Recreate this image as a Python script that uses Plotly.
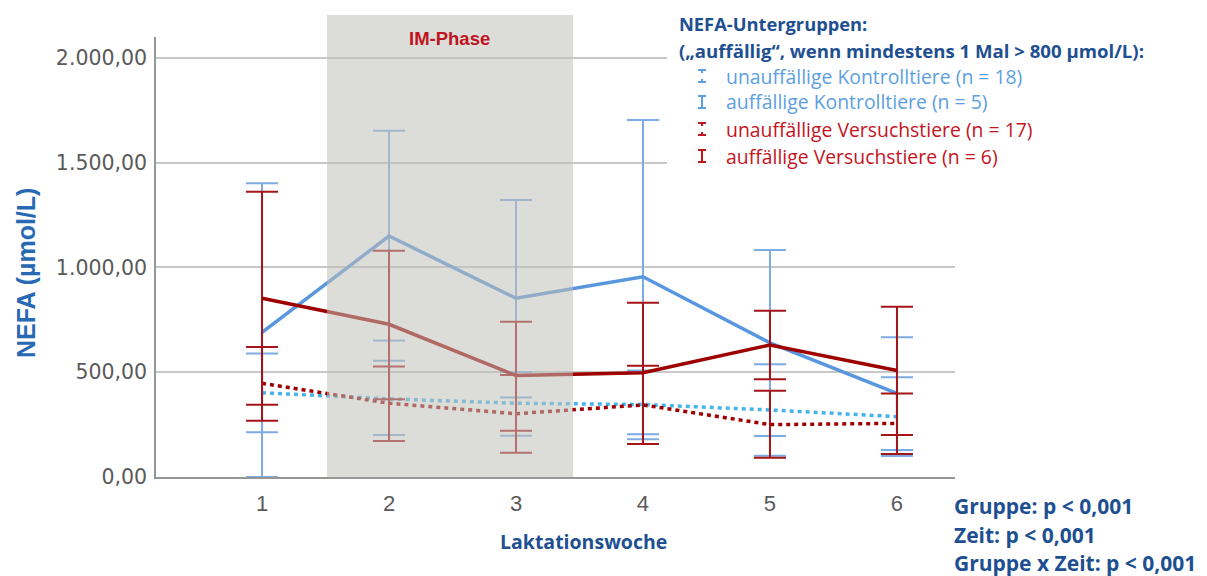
import plotly.graph_objects as go

# ---------------- data ----------------
weeks = [1, 2, 3, 4, 5, 6]
x_ticklabels = ["1", "2", "3", "4", "5", "6"]
y_tickvals = [0, 500, 1000, 1500, 2000]
y_ticktext = ["0,00", "500,00", "1.000,00", "1.500,00", "2.000,00"]

# unauffällige Kontrolltiere (n = 18)
ctrl_normal_mean = [402, 373, 352, 346, 320, 288]
ctrl_normal_upper = [590, 555, 500, 508, 538, 476]
ctrl_normal_lower = [213, 200, 197, 180, 102, 100]

# auffällige Kontrolltiere (n = 5)
ctrl_high_mean = [690, 1150, 853, 956, 640, 399]
ctrl_high_upper = [1402, 1652, 1322, 1704, 1083, 667]
ctrl_high_lower = [0, 651, 380, 204, 196, 129]

# unauffällige Versuchstiere (n = 17)
trt_normal_mean = [447, 352, 302, 344, 250, 256]
trt_normal_upper = [620, 527, 487, 531, 412, 399]
trt_normal_lower = [269, 172, 116, 157, 92, 110]

# auffällige Versuchstiere (n = 6)
trt_high_mean = [853, 729, 484, 498, 630, 508]
trt_high_upper = [1362, 1080, 741, 832, 794, 813]
trt_high_lower = [345, 371, 221, 157, 466, 200]

im_phase = [1.512, 3.449]

legend_labels = [
    "unauffällige Kontrolltiere (n = 18)",
    "auffällige Kontrolltiere (n = 5)",
    "unauffällige Versuchstiere (n = 17)",
    "auffällige Versuchstiere (n = 6)",
]
stats_lines = ["Gruppe: p < 0,001", "Zeit: p < 0,001", "Gruppe x Zeit: p < 0,001"]

# ---------------- styling ----------------
W, H = 1207, 576
OFF = 8  # default page body margin
L, R, T, B = 156, 955, 37, 477  # plot area in window pixels

BLUE_LINE = "rgb(88,150,222)"
BLUE_ERR = "rgb(125,172,228)"
CYAN_DOT = "rgb(70,180,235)"
RED_LINE = "rgb(158,0,0)"
RED_ERR = "rgb(165,20,25)"
DARKBLUE = "rgb(30,80,145)"
LEG_BLUE = "rgb(92,160,225)"
LEG_RED = "rgb(196,20,30)"


def px_x(px):
    return (px - L) / (R - L)


def px_y(py):
    return (B - py) / (B - T)


fig = go.Figure()


def add_series(mean, upper, lower, line_color, err_color, dash, width):
    plus = [u - m for u, m in zip(upper, mean)]
    minus = [m - lo for m, lo in zip(mean, lower)]
    fig.add_trace(go.Scatter(
        x=weeks, y=mean, mode="lines",
        line=dict(color=line_color, width=width, dash=dash),
        error_y=dict(type="data", symmetric=False, array=plus, arrayminus=minus,
                     color=err_color, thickness=2, width=16),
        showlegend=False, hoverinfo="skip",
    ))


add_series(ctrl_high_mean, ctrl_high_upper, ctrl_high_lower, BLUE_LINE, BLUE_ERR, "solid", 3.5)
add_series(ctrl_normal_mean, ctrl_normal_upper, ctrl_normal_lower, CYAN_DOT, BLUE_ERR, "4px,4px", 3.5)
add_series(trt_normal_mean, trt_normal_upper, trt_normal_lower, RED_LINE, RED_ERR, "4px,4px", 3.5)
add_series(trt_high_mean, trt_high_upper, trt_high_lower, RED_LINE, RED_ERR, "solid", 3.5)

shapes = []
# IM-Phase overlay
shapes.append(dict(type="rect", xref="x", yref="paper", x0=im_phase[0], x1=im_phase[1],
                   y0=0, y1=px_y(15), fillcolor="rgb(192,192,184)", opacity=0.55,
                   line=dict(width=0), layer="above"))
# white box behind legend (covers upper gridlines)
shapes.append(dict(type="rect", xref="paper", yref="paper", x0=px_x(667), x1=px_x(1000),
                   y0=px_y(178), y1=px_y(20), fillcolor="white", line=dict(width=0), layer="above"))

# legend icons
icon_x = 702
item_y = [76, 102, 129, 156]
icon_colors = [LEG_BLUE, LEG_BLUE, LEG_RED, LEG_RED]
icon_dashed = [True, False, True, False]
for yy, col, dashed in zip(item_y, icon_colors, icon_dashed):
    top, bot = yy - 6, yy + 6
    for cy in (top, bot):
        shapes.append(dict(type="line", xref="paper", yref="paper",
                           x0=px_x(icon_x - 4), x1=px_x(icon_x + 4), y0=px_y(cy), y1=px_y(cy),
                           line=dict(color=col, width=2), layer="above"))
    if dashed:
        for a, b in ((top, top + 3), (bot - 3, bot)):
            shapes.append(dict(type="line", xref="paper", yref="paper",
                               x0=px_x(icon_x), x1=px_x(icon_x), y0=px_y(a), y1=px_y(b),
                               line=dict(color=col, width=2), layer="above"))
    else:
        shapes.append(dict(type="line", xref="paper", yref="paper",
                           x0=px_x(icon_x), x1=px_x(icon_x), y0=px_y(top), y1=px_y(bot),
                           line=dict(color=col, width=2), layer="above"))

annotations = []
TXT = "Open Sans"
annotations.append(dict(text="<b>IM-Phase</b>", xref="x", yref="paper", x=2.48, y=px_y(38),
                        showarrow=False, font=dict(family="Liberation Sans", size=18.5, color="rgb(190,20,30)"),
                        xanchor="center", yanchor="middle"))
annotations.append(dict(text="<b>NEFA-Untergruppen:</b>", xref="paper", yref="paper",
                        x=px_x(677), y=px_y(23), xanchor="left", yanchor="middle", showarrow=False,
                        font=dict(family=TXT, size=18.3, color=DARKBLUE)))
annotations.append(dict(text="<b>(„auffällig“, wenn mindestens 1 Mal > 800 µmol/L):</b>", xref="paper", yref="paper",
                        x=px_x(677), y=px_y(50), xanchor="left", yanchor="middle", showarrow=False,
                        font=dict(family=TXT, size=18.6, color=DARKBLUE)))
for lab, yy, col in zip(legend_labels, item_y, icon_colors):
    annotations.append(dict(text=lab, xref="paper", yref="paper", x=px_x(724), y=px_y(yy),
                            xanchor="left", yanchor="middle", showarrow=False,
                            font=dict(family=TXT, size=19.4, color=col)))
for lab, yy in zip(stats_lines, [506, 535, 563]):
    annotations.append(dict(text="<b>" + lab + "</b>", xref="paper", yref="paper", x=px_x(952), y=px_y(yy),
                            xanchor="left", yanchor="middle", showarrow=False,
                            font=dict(family=TXT, size=21, color=DARKBLUE)))
# axis titles
annotations.append(dict(text="<b>NEFA (µmol/L)</b>", xref="paper", yref="paper", x=px_x(26), y=px_y(273),
                        xanchor="center", yanchor="middle", textangle=-90, showarrow=False,
                        font=dict(family="Liberation Sans", size=25, color="rgb(40,105,180)")))
annotations.append(dict(text="<b>Laktationswoche</b>", xref="paper", yref="paper", x=px_x(583), y=px_y(541),
                        xanchor="center", yanchor="middle", showarrow=False,
                        font=dict(family=TXT, size=19.5, color=DARKBLUE)))

fig.update_layout(
    width=W - OFF, height=H - OFF, autosize=False,
    margin=dict(l=L - OFF, r=W - R, t=T - OFF, b=H - B, pad=0),
    paper_bgcolor="white", plot_bgcolor="white",
    showlegend=False,
    shapes=shapes, annotations=annotations,
    xaxis=dict(range=[0.165, 6.457], tickvals=weeks, ticktext=x_ticklabels, showgrid=False,
               zeroline=False, showline=True, linecolor="rgb(150,150,150)", linewidth=1.5,
               ticks="", ticklabelstandoff=6,
               tickfont=dict(family="Liberation Sans", size=22, color="rgb(90,90,90)")),
    yaxis=dict(range=[0, 2100], tickvals=y_tickvals, ticktext=y_ticktext, showgrid=True,
               gridcolor="rgb(200,200,200)", gridwidth=1.5, zeroline=False,
               showline=True, linecolor="rgb(150,150,150)", linewidth=1.5,
               ticks="", ticklabelstandoff=3,
               tickfont=dict(family="DejaVu Sans", size=20.5, color="rgb(90,90,90)")),
)

fig.write_html("out.html")
